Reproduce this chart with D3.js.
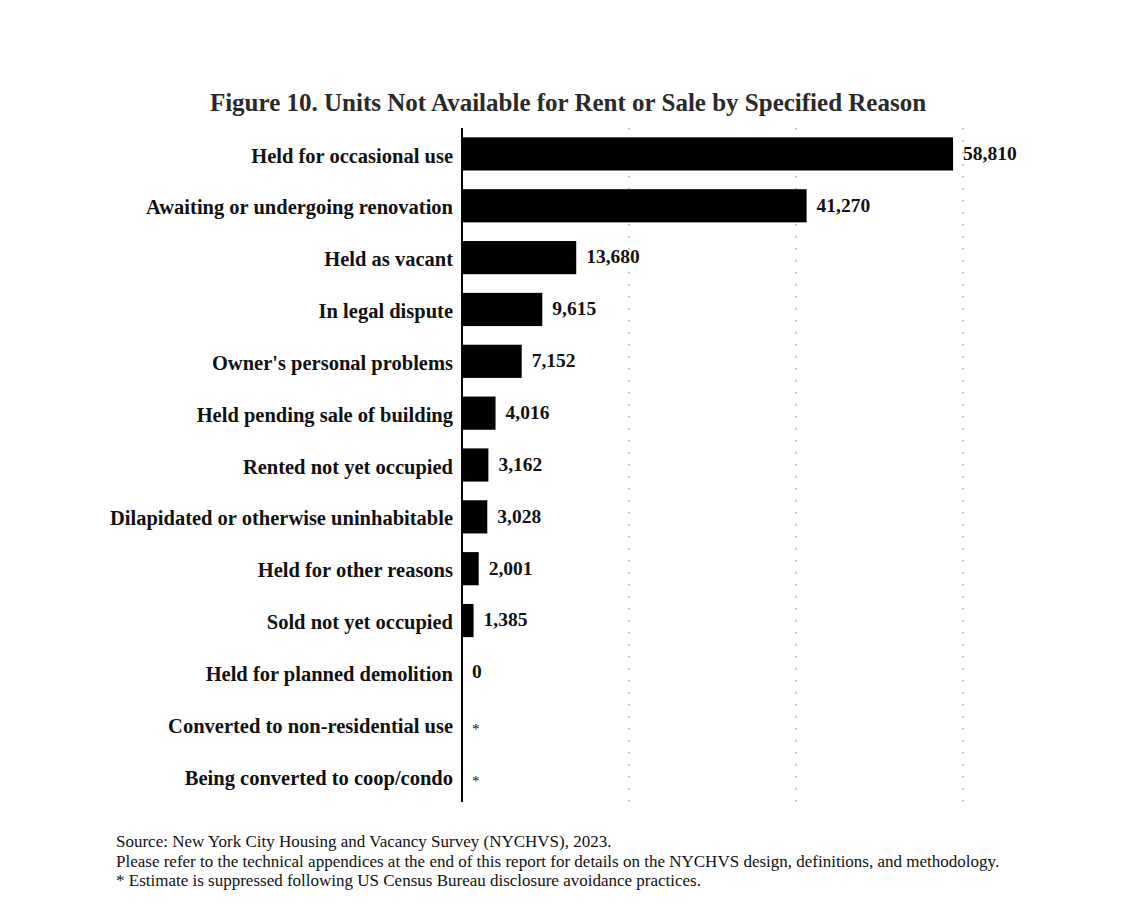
<!DOCTYPE html>
<html><head><meta charset="utf-8">
<script src="https://cdn.jsdelivr.net/npm/d3@7"></script>
<style>body{margin:0;background:#fff}</style>
</head><body>
<svg id="c" width="1125" height="903"></svg>
<script>
const categories = ["Held for occasional use","Awaiting or undergoing renovation","Held as vacant","In legal dispute","Owner's personal problems","Held pending sale of building","Rented not yet occupied","Dilapidated or otherwise uninhabitable","Held for other reasons","Sold not yet occupied","Held for planned demolition","Converted to non-residential use","Being converted to coop/condo"];
const values = [58810,41270,13680,9615,7152,4016,3162,3028,2001,1385,0,null,null];
const valueLabels = ["58,810","41,270","13,680","9,615","7,152","4,016","3,162","3,028","2,001","1,385","0","*","*"];
const gridTicks = [20000,40000,60000];
const title = "Figure 10. Units Not Available for Rent or Sale by Specified Reason";
const notes = ["Source: New York City Housing and Vacancy Survey (NYCHVS), 2023.","Please refer to the technical appendices at the end of this report for details on the NYCHVS design, definitions, and methodology.","* Estimate is suppressed following US Census Bureau disclosure avoidance practices."];

const svg = d3.select("#c");
const x = d3.scaleLinear().domain([0,60000]).range([462,963]);
const y = d3.scaleBand().domain(categories).range([128,802]).paddingInner(0.36).paddingOuter(0.18);
const serif = "'Liberation Serif', 'Times New Roman', serif";

svg.append("text").attr("x",568).attr("y",111).attr("text-anchor","middle")
  .attr("font-family",serif).attr("font-weight","bold").attr("font-size",25).attr("fill","#2a2a2a").text(title);

svg.append("g").selectAll("line").data(gridTicks).join("line")
  .attr("x1",d=>x(d)).attr("x2",d=>x(d)).attr("y1",128).attr("y2",802)
  .attr("stroke","#999").attr("stroke-width",1.2).attr("stroke-dasharray","1.5,10.5");

svg.append("g").selectAll("rect").data(values.map((v,i)=>({v,c:categories[i]})).filter(d=>d.v>0)).join("rect")
  .attr("x",x(0)).attr("y",d=>y(d.c)).attr("width",d=>x(d.v)-x(0)).attr("height",y.bandwidth()).attr("fill","#000");

const yAxis = d3.axisLeft(y).tickSize(0).tickPadding(9);
const ga = svg.append("g").attr("transform",`translate(${x(0)},0)`).call(yAxis);
ga.select(".domain").attr("stroke","#000").attr("stroke-width",2).attr("d","M0,128V802");
ga.selectAll("text").attr("font-family",serif).attr("font-weight","bold").attr("font-size",20.5).attr("fill","#111").attr("dy","0.42em");

svg.append("g").selectAll("text").data(categories).join("text")
  .attr("x",(c,i)=>x(values[i]||0)+10).attr("y",c=>y(c)+y.bandwidth()/2-1)
  .attr("dy",(c,i)=>valueLabels[i]==="*"?"0.7em":"0.35em")
  .attr("font-family",serif).attr("font-weight",(c,i)=>valueLabels[i]==="*"?"normal":"bold")
  .attr("font-size",(c,i)=>valueLabels[i]==="*"?15:19.5).attr("fill","#111")
  .text((c,i)=>valueLabels[i]);

svg.append("g").selectAll("text").data(notes).join("text")
  .attr("x",116).attr("y",(d,i)=>847+i*19.5)
  .attr("font-family",serif).attr("font-size",17).attr("fill","#111").text(d=>d);
</script>
</body></html>
